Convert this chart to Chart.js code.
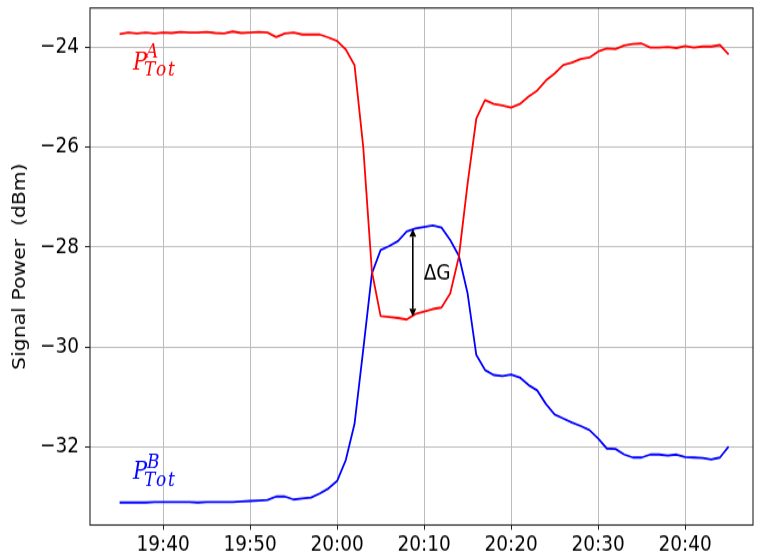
<!DOCTYPE html>
<html>
<head>
<meta charset="utf-8">
<script src="https://cdn.jsdelivr.net/npm/chart.js@4.4.1/dist/chart.umd.min.js"></script>
<style>
html, body { margin: 0; padding: 0; background: #fff; overflow: hidden; }
#wrap { width: 768px; height: 560px; overflow: hidden; }
#powerChart { display: block; transform: scaleY(1.2); transform-origin: 0 0; }
</style>
</head>
<body>
<div id="wrap"><canvas id="powerChart" width="768" height="467"></canvas></div>
<script>
// sample times (one per minute)
const times = [
    '19:35','19:36','19:37','19:38','19:39','19:40','19:41','19:42','19:43','19:44',
    '19:45','19:46','19:47','19:48','19:49','19:50','19:51','19:52','19:53','19:54',
    '19:55','19:56','19:57','19:58','19:59','20:00','20:01','20:02','20:03','20:04',
    '20:05','20:06','20:07','20:08','20:09','20:10','20:11','20:12','20:13','20:14',
    '20:15','20:16','20:17','20:18','20:19','20:20','20:21','20:22','20:23','20:24',
    '20:25','20:26','20:27','20:28','20:29','20:30','20:31','20:32','20:33','20:34',
    '20:35','20:36','20:37','20:38','20:39','20:40','20:41','20:42','20:43','20:44',
    '20:45'
];

// P_Tot^A (dBm)
const powerA = [
    -23.74,-23.71,-23.73,-23.71,-23.73,-23.71,-23.72,-23.70,-23.71,-23.71,
    -23.70,-23.72,-23.73,-23.69,-23.72,-23.71,-23.70,-23.71,-23.80,-23.73,
    -23.71,-23.75,-23.75,-23.75,-23.81,-23.88,-24.05,-24.36,-25.99,-28.49,
    -29.38,-29.40,-29.42,-29.45,-29.34,-29.29,-29.24,-29.21,-28.93,-28.19,
    -26.73,-25.43,-25.06,-25.14,-25.17,-25.21,-25.14,-24.99,-24.87,-24.67,
    -24.53,-24.36,-24.31,-24.24,-24.21,-24.09,-24.03,-24.04,-23.97,-23.94,
    -23.93,-24.01,-24.01,-24.00,-24.02,-23.98,-24.01,-23.99,-23.99,-23.96,
    -24.15
];

// P_Tot^B (dBm)
const powerB = [
    -33.11,-33.11,-33.11,-33.11,-33.10,-33.10,-33.10,-33.10,-33.10,-33.11,
    -33.10,-33.10,-33.10,-33.10,-33.09,-33.08,-33.07,-33.06,-32.99,-32.99,
    -33.05,-33.03,-33.01,-32.93,-32.83,-32.68,-32.26,-31.54,-30.06,-28.53,
    -28.06,-27.98,-27.88,-27.69,-27.63,-27.60,-27.57,-27.61,-27.86,-28.18,
    -28.93,-30.16,-30.46,-30.56,-30.58,-30.55,-30.61,-30.76,-30.87,-31.14,
    -31.35,-31.43,-31.51,-31.58,-31.66,-31.83,-32.03,-32.04,-32.15,-32.21,
    -32.21,-32.15,-32.15,-32.17,-32.15,-32.20,-32.21,-32.22,-32.25,-32.21,
    -31.99
];

const xTicks = ['19:40','19:50','20:00','20:10','20:20','20:30','20:40'];
const yTicks = [-24, -26, -28, -30, -32];

// delta G arrow: time, top value, bottom value
const gapTime = '20:08.7';
const gapTop = -27.64;
const gapBottom = -29.39;

const toMinutes = s => {
    const [h, m] = s.split(':');
    return Number(h) * 60 + Number(m);
};

Chart.defaults.font.family = '"DejaVu Sans", sans-serif';
Chart.defaults.color = '#000';

// frame round the plot area
const frame = {
    id: 'frame',
    afterDatasetsDraw(chart) {
        const {ctx, chartArea: a} = chart;
        ctx.save();
        ctx.strokeStyle = '#222';
        ctx.lineWidth = 1.1;
        ctx.strokeRect(a.left, a.top, a.right - a.left, a.bottom - a.top);
        ctx.restore();
    }
};

// P labels, delta G text and arrow
const notes = {
    id: 'notes',
    afterDatasetsDraw(chart) {
        const {ctx} = chart;
        const xs = chart.scales.x, ys = chart.scales.y;
        ctx.save();
        ctx.textAlign = 'left';
        ctx.textBaseline = 'alphabetic';

        const labels = [
            {t: '19:36.55', v: -24.45, sup: 'A', supDx: 13, color: '#ff0000'},
            {t: '19:36.55', v: -32.64, sup: 'B', supDx: 14, color: '#0000ff'}
        ];
        labels.forEach(l => {
            const x = xs.getPixelForValue(toMinutes(l.t));
            const y = ys.getPixelForValue(l.v);
            ctx.fillStyle = l.color;
            ctx.font = 'italic 21px "DejaVu Serif"';
            ctx.fillText('P', x, y);
            ctx.font = 'italic 17px "DejaVu Serif"';
            ctx.fillText(l.sup, x + l.supDx, y - 9.5);
            ctx.letterSpacing = '1.8px';
            ctx.fillText('Tot', x + 11, y + 5.4);
            ctx.letterSpacing = '0px';
        });

        // delta G
        ctx.fillStyle = '#000';
        ctx.font = '18.5px "DejaVu Sans"';
        ctx.fillText('\u0394G', xs.getPixelForValue(toMinutes('20:09.95')), ys.getPixelForValue(-28.66));

        const ax = xs.getPixelForValue(toMinutes(gapTime));
        const y1 = ys.getPixelForValue(gapTop);
        const y2 = ys.getPixelForValue(gapBottom);
        const head = 6.5, half = 3.5;
        ctx.strokeStyle = '#000';
        ctx.lineWidth = 1.6;
        ctx.beginPath();
        ctx.moveTo(ax, y1 + head);
        ctx.lineTo(ax, y2 - head);
        ctx.stroke();
        ctx.beginPath();
        ctx.moveTo(ax, y1);
        ctx.lineTo(ax - half, y1 + head);
        ctx.lineTo(ax + half, y1 + head);
        ctx.closePath();
        ctx.moveTo(ax, y2);
        ctx.lineTo(ax - half, y2 - head);
        ctx.lineTo(ax + half, y2 - head);
        ctx.closePath();
        ctx.fill();
        ctx.restore();
    }
};

const ctx = document.getElementById('powerChart').getContext('2d');
const chart = new Chart(ctx, {
    type: 'line',
    data: {
        datasets: [{
            label: 'P_Tot^A',
            data: times.map((t, i) => ({x: toMinutes(t), y: powerA[i]})),
            borderColor: '#ff0000',
            borderWidth: 1.8,
            pointRadius: 0,
            tension: 0,
            borderJoinStyle: 'round'
        }, {
            label: 'P_Tot^B',
            data: times.map((t, i) => ({x: toMinutes(t), y: powerB[i]})),
            borderColor: '#0000ff',
            borderWidth: 1.8,
            pointRadius: 0,
            tension: 0,
            borderJoinStyle: 'round'
        }]
    },
    options: {
        responsive: false,
        animation: false,
        devicePixelRatio: 1,
        layout: {
            padding: {top: 6.67, right: 15, left: 0, bottom: 0}
        },
        plugins: {
            legend: {display: false},
            tooltip: {enabled: false}
        },
        scales: {
            x: {
                type: 'linear',
                min: 1171.6,
                max: 1247.8,
                afterBuildTicks: s => { s.ticks = xTicks.map(t => ({value: toMinutes(t)})); },
                afterFit: s => {
                    s.height = 29.5;
                    s.paddingLeft = 0;
                    s.paddingRight = 0;
                },
                ticks: {
                    callback: (v, i) => xTicks[i],
                    font: {size: 18.5},
                    padding: 2,
                    maxRotation: 0,
                    autoSkip: false
                },
                grid: {color: '#bdbdbd', lineWidth: 1, tickLength: 4, tickColor: '#222'},
                border: {display: false}
            },
            y: {
                min: -33.56,
                max: -23.22,
                afterBuildTicks: s => { s.ticks = yTicks.map(v => ({value: v})); },
                afterFit: s => {
                    s.width = 90;
                    s.paddingTop = 0;
                    s.paddingBottom = 0;
                },
                ticks: {
                    callback: v => '\u2212' + Math.abs(v),
                    font: {size: 18.5},
                    padding: 6
                },
                grid: {color: '#bdbdbd', lineWidth: 1, tickLength: 5, tickColor: '#222'},
                border: {display: false},
                title: {
                    display: true,
                    text: 'Signal Power  (dBm)',
                    font: {size: 17},
                    padding: {top: 10, bottom: 0}
                }
            }
        }
    },
    plugins: [frame, notes]
});
</script>
</body>
</html>
